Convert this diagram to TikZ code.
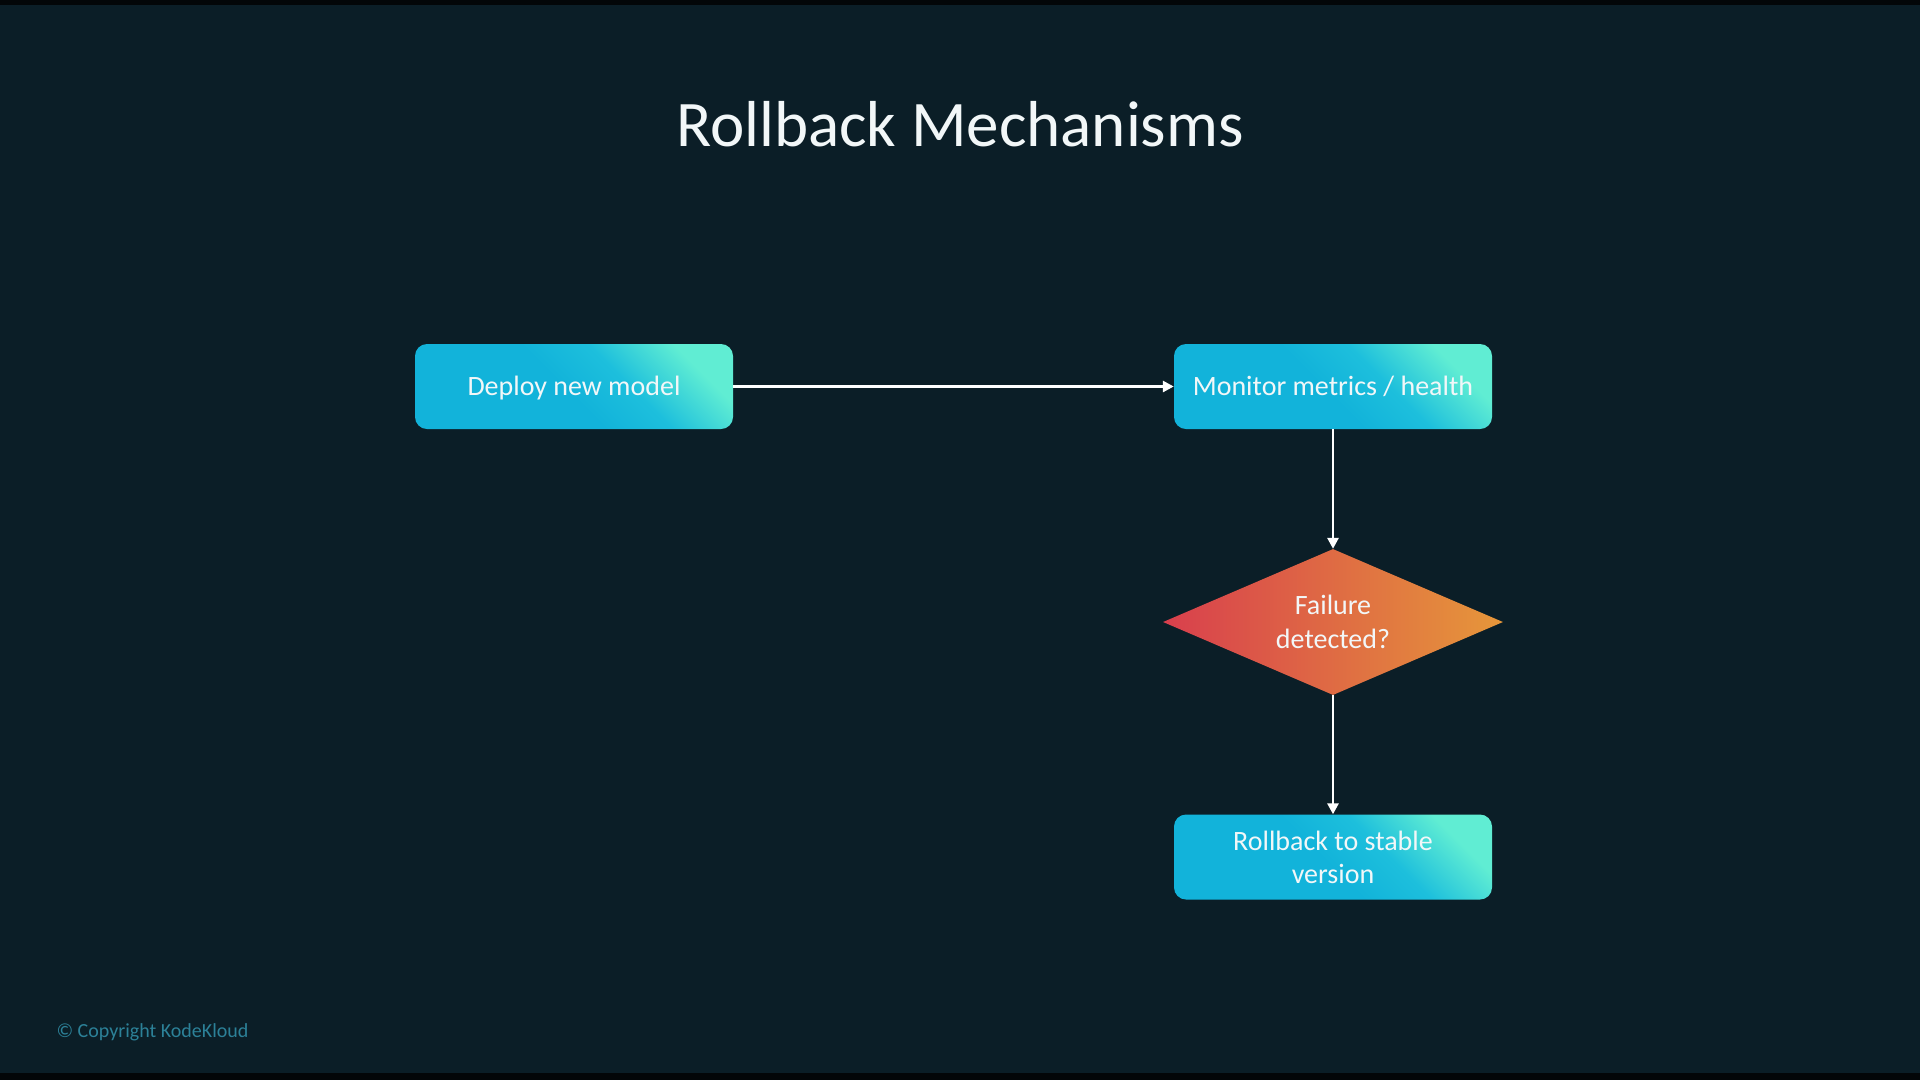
\documentclass[tikz,border=0pt]{standalone}
\usepackage{fontspec}
\setmainfont{Carlito}
\usetikzlibrary{shapes.geometric,arrows.meta}
\definecolor{bg}{HTML}{0B1E27}
\definecolor{strip}{HTML}{030608}
\definecolor{cyanA}{HTML}{12B3DA}
\definecolor{cyanB}{HTML}{1DBFDC}
\definecolor{mint}{HTML}{60EDD3}
\definecolor{redA}{HTML}{D83F4D}
\definecolor{orgA}{HTML}{DF6E45}
\definecolor{orgB}{HTML}{E6973A}
\definecolor{txt}{HTML}{F2F7F8}
\definecolor{copy}{HTML}{2C8198}
\pgfdeclareverticalshading{boxshade}{100bp}{color(0bp)=(cyanA); color(25bp)=(cyanA); color(48bp)=(cyanA); color(60bp)=(cyanB); color(75bp)=(mint); color(100bp)=(mint)}
\tikzset{
  stepbox/.style={rectangle, rounded corners=12pt, minimum width=318pt, minimum height=85pt,
    inner sep=0pt, align=center, text=txt, font=\fontsize{28}{33}\selectfont,
    shading=boxshade, shading angle=-45},
  oneline/.style={text height=17pt, text depth=0pt},
  decision/.style={diamond, inner sep=0pt, minimum width=340pt, minimum height=146pt,
    aspect=2.33, align=center, text=txt, font=\fontsize{28}{34}\selectfont,
    left color=redA, middle color=orgA, right color=orgB},
  flow/.style={draw=white, line width=2.8pt, -{Triangle[length=11pt,width=11pt]}}
}
\begin{document}
\begin{tikzpicture}[x=1pt,y=-1pt]
\fill[bg] (0,0) rectangle (1920,1080);
\fill[strip] (0,0) rectangle (1920,5);
\fill[strip] (0,1073) rectangle (1920,1080);
\useasboundingbox (0,0) rectangle (1920,1080);
\node[text=txt, font=\fontsize{65}{78}\selectfont] (title) at (960,124) {Rollback Mechanisms};
\node[stepbox, oneline] (deploy) at (574,386.5) {Deploy new model};
\node[stepbox, oneline] (monitor) at (1333,386.5) {Monitor metrics / health};
\node[decision] (fail) at (1333,622) {Failure\\detected?};
\node[stepbox] (rollback) at (1333,857) {Rollback to stable\\version};
\node[anchor=west, text=copy, font=\fontsize{20}{24}\selectfont] (copyright) at (53,1032) {© Copyright KodeKloud};
\draw[flow] (deploy.east) -- (monitor.west);
\draw[flow] (monitor.south) -- (fail.north);
\draw[flow] (fail.south) -- (rollback.north);
\end{tikzpicture}
\end{document}
